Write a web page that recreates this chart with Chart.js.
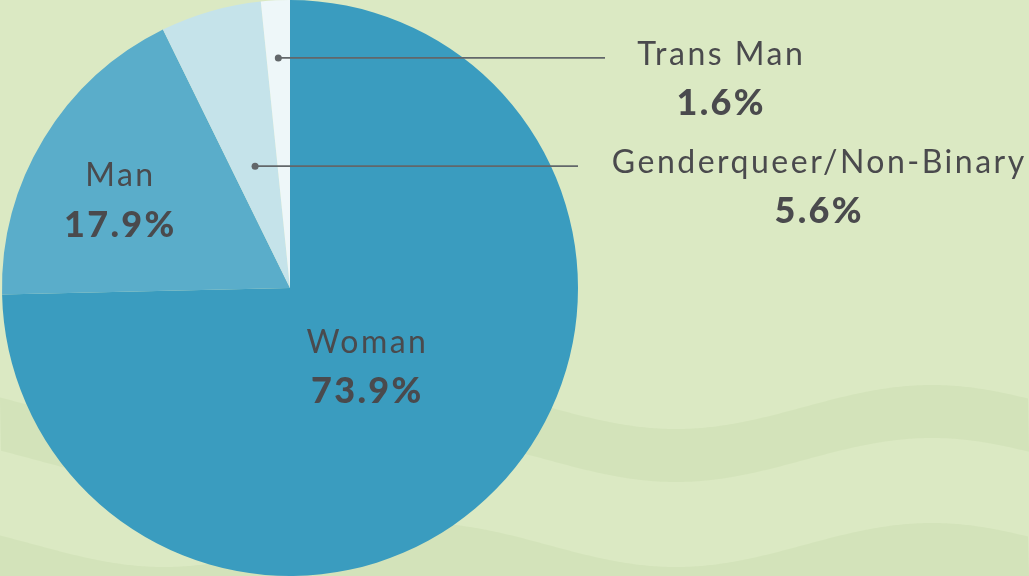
<!DOCTYPE html>
<html>
<head>
<meta charset="utf-8">
<script src="https://cdn.jsdelivr.net/npm/chart.js@4.4.1/dist/chart.umd.min.js"></script>
<style>
html,body{margin:0;padding:0;background:#dbe9c3;}
#wrap{position:relative;width:1029px;height:576px;}
</style>
</head>
<body>
<div id="wrap"><canvas id="c" width="1029" height="576"></canvas></div>
<script>
// ---- data ----
const categories = ['Woman', 'Man', 'Genderqueer/Non-Binary', 'Trans Man'];
const shares = [73.9, 17.9, 5.6, 1.6];
const sliceColors = ['#3a9cbf', '#5aadca', '#c5e3ea', '#eef7f9'];

// ---- label styles (not data) ----
const labelStyles = [
  {type: 'inside', frac: 0.37, nameDy: -10, pctDy: 40},
  {type: 'inside', frac: 0.694, nameDy: 2, pctDy: 53},
  {type: 'callout', frac: 0.44, lineEnd: 578, textX: 818, nameDy: 7, pctDy: 57},
  {type: 'callout', frac: 0.80, lineEnd: 605, textX: 720, nameDy: 7, pctDy: 57}
];

const TEXT = '#4a4a4d';
const LINE = '#62676a';
const NAME_FONT = '400 32px Lato';
const PCT_FONT = '900 36px Lato';

const bgPlugin = {
  id: 'bgWaves',
  beforeDraw(chart) {
    const ctx = chart.ctx, W = chart.width, H = chart.height;
    ctx.save();
    ctx.fillStyle = '#dbe9c3';
    ctx.fillRect(0, 0, W, H);
    ctx.fillStyle = '#d3e3ba';
    const wave = (x, mid) => mid + 22 * Math.cos(2 * Math.PI * (x - 676) / 512);
    // band 1
    ctx.beginPath();
    for (let x = 0; x <= W; x += 2) { const y = wave(x, 407); x === 0 ? ctx.moveTo(x, y) : ctx.lineTo(x, y); }
    for (let x = W; x >= 0; x -= 2) ctx.lineTo(x, wave(x, 460));
    ctx.closePath(); ctx.fill();
    // band 2
    ctx.beginPath();
    for (let x = 0; x <= W; x += 2) { const y = wave(x, 545); x === 0 ? ctx.moveTo(x, y) : ctx.lineTo(x, y); }
    ctx.lineTo(W, H); ctx.lineTo(0, H);
    ctx.closePath(); ctx.fill();
    ctx.restore();
  }
};

function centeredText(ctx, text, x, y, spacing) {
  ctx.letterSpacing = spacing + 'px';
  const w = ctx.measureText(text).width - spacing;
  ctx.textAlign = 'left';
  ctx.fillText(text, x - w / 2, y);
}

const labelPlugin = {
  id: 'sliceLabels',
  afterDatasetsDraw(chart) {
    const ctx = chart.ctx;
    const meta = chart.getDatasetMeta(0);
    ctx.save();
    ctx.textBaseline = 'alphabetic';
    meta.data.forEach((arc, i) => {
      const st = labelStyles[i];
      const mid = (arc.startAngle + arc.endAngle) / 2;
      const r = arc.outerRadius * st.frac;
      const ax = arc.x + Math.cos(mid) * r;
      const ay = arc.y + Math.sin(mid) * r;
      const name = categories[i];
      const pct = shares[i].toFixed(1) + '%';
      let tx = ax;
      if (st.type === 'callout') {
        ctx.strokeStyle = LINE;
        ctx.lineWidth = 1.8;
        ctx.beginPath();
        ctx.moveTo(ax, ay);
        ctx.lineTo(st.lineEnd, ay);
        ctx.stroke();
        ctx.fillStyle = LINE;
        ctx.beginPath();
        ctx.arc(ax, ay, 3.5, 0, Math.PI * 2);
        ctx.fill();
        tx = st.textX;
      }
      ctx.fillStyle = TEXT;
      ctx.font = NAME_FONT;
      centeredText(ctx, name, tx, ay + st.nameDy, 2.5);
      ctx.font = PCT_FONT;
      centeredText(ctx, pct, tx, ay + st.pctDy, 2.3);
    });
    ctx.restore();
  }
};

new Chart(document.getElementById('c'), {
  type: 'pie',
  data: {
    labels: categories,
    datasets: [{
      data: shares,
      backgroundColor: sliceColors,
      borderWidth: 0,
      hoverOffset: 0
    }]
  },
  options: {
    responsive: false,
    animation: false,
    layout: {padding: {left: 2, right: 451, top: 0, bottom: 0}},
    plugins: {legend: {display: false}, tooltip: {enabled: false}},
    events: []
  },
  plugins: [bgPlugin, labelPlugin]
});
</script>
</body>
</html>
